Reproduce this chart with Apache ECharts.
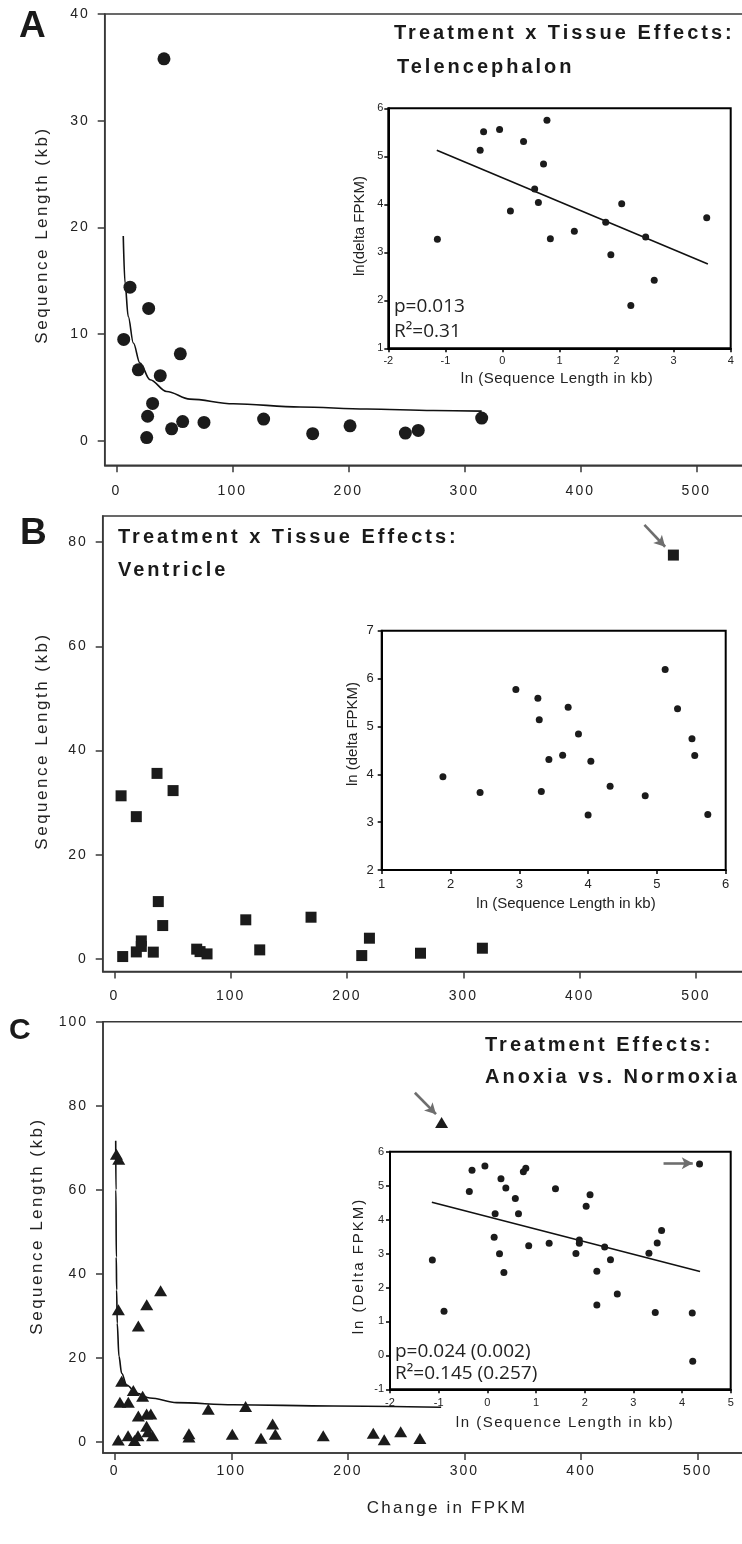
<!DOCTYPE html>
<html><head><meta charset="utf-8">
<script src="https://cdn.jsdelivr.net/npm/echarts@6/dist/echarts.min.js"></script>
<style>html,body{margin:0;padding:0;background:#fff}#c{width:742px;height:1544px}</style>
</head><body><div id="c"></div>
<script>
// ---------- Panel A: Telencephalon ----------
const aChange = [41.1, 11.8, 27.9, 6.4, 55.2, 19.0, 37.9, 31.3, 27.0, 26.2, 47.7, 57.2, 75.6, 127.0, 169.3, 201.5, 249.2, 260.3, 315.0];
const aLength = [35.8, 14.4, 12.4, 9.5, 8.15, 6.65, 6.1, 3.5, 2.3, 0.3, 1.12, 1.8, 1.72, 2.03, 0.66, 1.4, 0.72, 0.97, 2.13];
const aCurveX = [6.0, 7.5, 10.3, 14.7, 20.4, 29.1, 43.4, 63.5, 100.9, 158.4, 215.9, 273.3, 315.0];
const aCurveY = [19.2, 14.8, 11.65, 9.16, 7.28, 5.72, 4.62, 3.9, 3.47, 3.16, 2.97, 2.84, 2.78];
const aLnLen  = [-1.14, -0.39, -0.33, -0.05, 0.37, 0.78, 0.72, 0.565, 0.63, 0.14, 0.84, 1.26, 1.81, 1.90, 2.09, 2.51, 2.66, 2.25, 3.58];
const aLnFpkm = [3.27, 5.125, 5.51, 5.56, 5.31, 5.75, 4.84, 4.32, 4.04, 3.86, 3.28, 3.44, 3.625, 2.95, 4.01, 3.32, 2.42, 1.89, 3.72];
const aFitX = [-1.15, 3.6];
const aFitY = [5.125, 2.757];

// ---------- Panel B: Ventricle ----------
const bChange = [5.8, 18.9, 36.7, 50.5, 37.8, 41.6, 113, 169.1, 7.2, 18.9, 23.2, 23.2, 33.5, 70.8, 73.7, 79.7, 125, 212.7, 219.3, 263.2, 316.4, 480.6];
const bLength = [31.3, 27.3, 35.6, 32.3, 11.0, 6.4, 7.5, 8.0, 0.45, 1.34, 3.45, 2.4, 1.3, 1.87, 1.4, 0.96, 1.73, 0.64, 3.97, 1.09, 2.05, 77.5];
const bLnLen  = [1.89, 2.43, 2.95, 3.27, 3.29, 3.32, 3.43, 3.63, 3.71, 3.86, 4.04, 4.00, 4.32, 4.83, 5.12, 5.30, 5.51, 5.55, 5.74];
const bLnFpkm = [3.95, 3.62, 5.77, 5.59, 5.14, 3.64, 4.31, 4.40, 5.40, 4.84, 4.27, 3.15, 3.75, 3.55, 6.19, 5.37, 4.74, 4.39, 3.16];
const bArrowX = [455.7, 473.5];
const bArrowY = [83.3, 79.1];

// ---------- Panel C: Anoxia vs. Normoxia ----------
const cChange = [1.5, 3.5, 3.2, 20.3, 27.5, 39.4, 6.0, 16.0, 24.0, 4.5, 11.7, 20.3, 27.4, 31.0, 27.4, 80.3, 112.3, 135.5, 137.8, 63.7, 63.7, 100.9, 125.5, 178.9, 221.8, 231.2, 245.3, 261.8, 3.1, 11.5, 17.0, 20.0, 28.5, 32.5, 280.4];
const cLength = [68.5, 67.3, 31.5, 27.6, 32.7, 36.0, 14.5, 12.3, 10.9, 9.5, 9.5, 6.2, 6.7, 6.7, 3.8, 7.8, 8.5, 4.3, 1.9, 2.0, 1.2, 1.9, 0.95, 1.5, 2.1, 0.6, 2.5, 0.9, 0.5, 1.5, 0.4, 1.5, 2.5, 1.5, 76.0];
const cCurveX = [0.9, 1.1, 1.4, 1.7, 2.2, 3.7, 6.0, 10.3, 18.9, 30.3, 53.2, 101.7, 187.5, 280.0];
const cCurveY = [71.7, 60.0, 44.0, 36.2, 28.3, 20.4, 16.4, 13.6, 11.6, 10.5, 9.4, 8.9, 8.6, 8.3];
const cLnLen  = [-1.13, -0.89, -0.37, -0.315, -0.05, 0.16, 0.14, 0.28, 0.25, 0.34, 0.38, 0.575, 0.64, 0.74, 0.79, 0.85, 1.27, 1.40, 1.82, 1.89, 1.89, 2.03, 2.11, 2.25, 2.25, 2.41, 2.53, 2.67, 3.32, 3.49, 3.58, 3.45, 4.21, 4.36, 4.22];
const cLnFpkm = [2.81, 1.30, 4.83, 5.45, 5.58, 4.17, 3.48, 5.20, 2.99, 2.44, 4.93, 4.62, 4.17, 5.41, 5.51, 3.23, 3.30, 4.91, 3.00, 3.40, 3.30, 4.39, 4.73, 2.48, 1.48, 3.19, 2.82, 1.81, 3.01, 3.31, 3.68, 1.26, 1.25, 5.64, -0.17];
const cFitX = [-1.14, 4.37];
const cFitY = [4.51, 2.47];
const cArrowX = [257.5, 275.6];
const cArrowY = [83.1, 78.0];
const cInArrowX = [3.62, 4.22];
const cInArrowY = [5.66, 5.66];

// tick labels
const mainXTicks = [0, 100, 200, 300, 400, 500];
const aYTicks = [0, 10, 20, 30, 40];
const bYTicks = [0, 20, 40, 60, 80];
const cYTicks = [0, 20, 40, 60, 80, 100];

// ---- letter spacing support (font family token "lsNN" => NN/10 px) ----
(function () {
  const proto = CanvasRenderingContext2D.prototype;
  const orig = proto.fillText;
  proto.fillText = function (t, x, y, w) {
    const f = this.font || '';
    const m = /\bls(\d+)\b/.exec(f);
    if ('letterSpacing' in this) {
      this.letterSpacing = m ? (m[1] / 10) + 'px' : '0px';
      this.font = f;
    }
    const r = (w === undefined) ? orig.call(this, t, x, y) : orig.call(this, t, x, y, w);
    if ('letterSpacing' in this && m) {
      this.letterSpacing = '0px';
      this.font = f;
    }
    return r;
  };
})();

const zip = (xs, ys) => xs.map((x, i) => [x, ys[i]]);
const INK = '#1b1b1b';
const AX = '#383838';

function mainX(gi, margin) {
  return {
    type: 'value', gridIndex: gi, min: -10, max: 545,
    axisLine: { show: true, onZero: false, lineStyle: { color: AX, width: 1.5 } },
    axisTick: { show: true, length: 7, lineStyle: { color: AX, width: 1.5 }, customValues: mainXTicks },
    axisLabel: { customValues: mainXTicks, margin: margin, fontSize: 14, color: '#222', fontFamily: 'Liberation Sans, ls20' },
    splitLine: { show: false }
  };
}
function mainY(gi, min, max, ticks) {
  return {
    type: 'value', gridIndex: gi, min: min, max: max,
    axisLine: { show: true, onZero: false, lineStyle: { color: AX, width: 1.5 } },
    axisTick: { show: true, length: 7, lineStyle: { color: AX, width: 1.5 }, customValues: ticks },
    axisLabel: { customValues: ticks, margin: 15, fontSize: 14, color: '#222', fontFamily: 'Liberation Sans, ls20' },
    splitLine: { show: false }
  };
}
function insetAxis(gi, min, max, fs, margin, fam) {
  return {
    type: 'value', gridIndex: gi, min: min, max: max, interval: 1,
    axisLine: { show: true, onZero: false, lineStyle: { color: '#000', width: 2 } },
    axisTick: { show: true, length: 4, lineStyle: { color: '#000', width: 1.5 } },
    axisLabel: { margin: margin, fontSize: fs, color: '#222', fontFamily: fam },
    splitLine: { show: false }
  };
}
function scatter(xi, yi, data, symbol, size, extra) {
  return Object.assign({
    type: 'scatter', xAxisIndex: xi, yAxisIndex: yi, data: data, symbol: symbol, symbolSize: size,
    itemStyle: { color: INK, opacity: 1 }, silent: true, z: 3
  }, extra || {});
}
function line(xi, yi, data, smooth) {
  return {
    type: 'line', xAxisIndex: xi, yAxisIndex: yi, data: data, showSymbol: false, symbol: 'none',
    smooth: smooth, smoothMonotone: 'x', lineStyle: { color: '#111', width: 1.6 }, silent: true, z: 2
  };
}
function arrow(xs, ys) {
  return {
    silent: true, symbol: ['none', 'arrow'], symbolSize: [9, 11], label: { show: false },
    lineStyle: { color: '#6e6e6e', width: 2.6, type: 'solid' },
    emphasis: { disabled: true },
    data: [[{ coord: [xs[0], ys[0]] }, { coord: [xs[1], ys[1]] }]]
  };
}
function txt(text, x, y, size, weight, fam, align, rot, color) {
  return {
    type: 'text', x: x, y: y, rotation: rot || 0, silent: true, z: 10,
    style: {
      text: text, fontSize: size, fontWeight: weight, fontFamily: fam, fill: color || '#1a1a1a',
      textAlign: align, textVerticalAlign: 'middle', verticalAlign: 'middle'
    }
  };
}

const mainGridStyle = { show: true, borderColor: AX, borderWidth: 1.5, backgroundColor: 'transparent', containLabel: false, outerBoundsMode: 'none' };
const insetGridStyle = { show: true, borderColor: '#000', borderWidth: 2, backgroundColor: 'transparent', containLabel: false, outerBoundsMode: 'none' };

const option = {
  animation: false,
  backgroundColor: '#fff',
  grid: [
    Object.assign({ left: 104.7, top: 14, width: 643.8, height: 451.3 }, mainGridStyle),
    Object.assign({ left: 388.3, top: 108.3, width: 342.4, height: 240 }, insetGridStyle),
    Object.assign({ left: 102.7, top: 516, width: 645.6, height: 455.4 }, mainGridStyle),
    Object.assign({ left: 381.7, top: 630.7, width: 344, height: 239.3 }, insetGridStyle),
    Object.assign({ left: 103.0, top: 1021.7, width: 647.1, height: 431.4 }, mainGridStyle),
    Object.assign({ left: 390, top: 1151.7, width: 340.7, height: 237.6 }, insetGridStyle)
  ],
  xAxis: [
    mainX(0, 19),
    insetAxis(1, -2, 4, 11, 7, 'Liberation Sans'),
    mainX(2, 18),
    insetAxis(3, 1, 6, 13, 8, 'Liberation Sans'),
    mainX(4, 11),
    insetAxis(5, -2, 5, 11, 8, 'Liberation Sans')
  ],
  yAxis: [
    mainY(0, -2.3, 40, aYTicks),
    insetAxis(1, 1, 6, 11, 5, 'Liberation Sans'),
    mainY(2, -2.4, 85, bYTicks),
    insetAxis(3, 2, 7, 13, 8, 'Liberation Sans'),
    mainY(4, -2.6, 100, cYTicks),
    insetAxis(5, -1, 6, 11, 6, 'Liberation Sans')
  ],
  series: [
    line(0, 0, zip(aCurveX, aCurveY), 0.35),
    scatter(0, 0, zip(aChange, aLength), 'circle', 13),
    line(1, 1, zip(aFitX, aFitY), false),
    scatter(1, 1, zip(aLnLen, aLnFpkm), 'circle', 7),

    scatter(2, 2, zip(bChange, bLength), 'rect', 11, { markLine: arrow(bArrowX, bArrowY) }),
    scatter(3, 3, zip(bLnLen, bLnFpkm), 'circle', 7),

    line(4, 4, zip(cCurveX, cCurveY), 0.35),
    scatter(4, 4, zip(cChange, cLength), 'triangle', [13, 11], { markLine: arrow(cArrowX, cArrowY) }),
    line(5, 5, zip(cFitX, cFitY), false),
    scatter(5, 5, zip(cLnLen, cLnFpkm), 'circle', 7, { markLine: arrow(cInArrowX, cInArrowY) })
  ],
  graphic: [
    // panel letters
    txt('A', 19, 27, 37, 'bold', 'Liberation Sans', 'left'),
    txt('B', 20, 534, 37, 'bold', 'Liberation Sans', 'left'),
    txt('C', 9, 1031, 30, 'bold', 'Liberation Sans', 'left'),
    // titles
    txt('Treatment x Tissue Effects:', 394, 33, 20, 'bold', 'Liberation Sans, ls30', 'left'),
    txt('Telencephalon', 397, 67, 20, 'bold', 'Liberation Sans, ls30', 'left'),
    txt('Treatment x Tissue Effects:', 118, 537, 20, 'bold', 'Liberation Sans, ls30', 'left'),
    txt('Ventricle', 118, 570, 20, 'bold', 'Liberation Sans, ls30', 'left'),
    txt('Treatment Effects:', 485, 1045, 20, 'bold', 'Liberation Sans, ls30', 'left'),
    txt('Anoxia vs. Normoxia', 485, 1077, 20, 'bold', 'Liberation Sans, ls30', 'left'),
    // main axis titles
    txt('Sequence Length (kb)', 42, 235, 17, 'normal', 'Liberation Sans, ls25', 'center', Math.PI / 2, '#222'),
    txt('Sequence Length (kb)', 42, 741, 17, 'normal', 'Liberation Sans, ls25', 'center', Math.PI / 2, '#222'),
    txt('Sequence Length (kb)', 37, 1226, 17, 'normal', 'Liberation Sans, ls25', 'center', Math.PI / 2, '#222'),
    txt('Change in FPKM', 447, 1508, 17, 'normal', 'Liberation Sans, ls22', 'center', 0, '#222'),
    // inset axis titles
    txt('ln (Sequence Length in kb)', 557, 379, 15, 'normal', 'Liberation Sans, ls5', 'center', 0, '#222'),
    txt('ln(delta FPKM)', 360, 226, 15, 'normal', 'Liberation Sans', 'center', Math.PI / 2, '#222'),
    txt('ln (Sequence Length in kb)', 566, 904, 15, 'normal', 'Liberation Sans', 'center', 0, '#222'),
    txt('ln (delta FPKM)', 353, 734, 15, 'normal', 'Liberation Sans', 'center', Math.PI / 2, '#222'),
    txt('ln (Sequence Length in kb)', 565, 1423, 15, 'normal', 'Liberation Sans, ls15', 'center', 0, '#222'),
    txt('ln (Delta FPKM)', 359, 1266, 15, 'normal', 'Liberation Sans, ls20', 'center', Math.PI / 2, '#222'),
    // stats
    txt('p=0.013', 394, 307, 19, 'normal', 'Open Sans', 'left', 0, '#222'),
    txt('R²=0.31', 394, 332, 19, 'normal', 'Open Sans', 'left', 0, '#222'),
    txt('p=0.024 (0.002)', 395, 1352, 19, 'normal', 'Open Sans', 'left', 0, '#222'),
    txt('R²=0.145 (0.257)', 395, 1374, 19, 'normal', 'Open Sans', 'left', 0, '#222')
  ]
};

const chart = echarts.init(document.getElementById('c'), null, { renderer: 'canvas', width: 742, height: 1544 });
chart.setOption(option);
</script></body></html>
